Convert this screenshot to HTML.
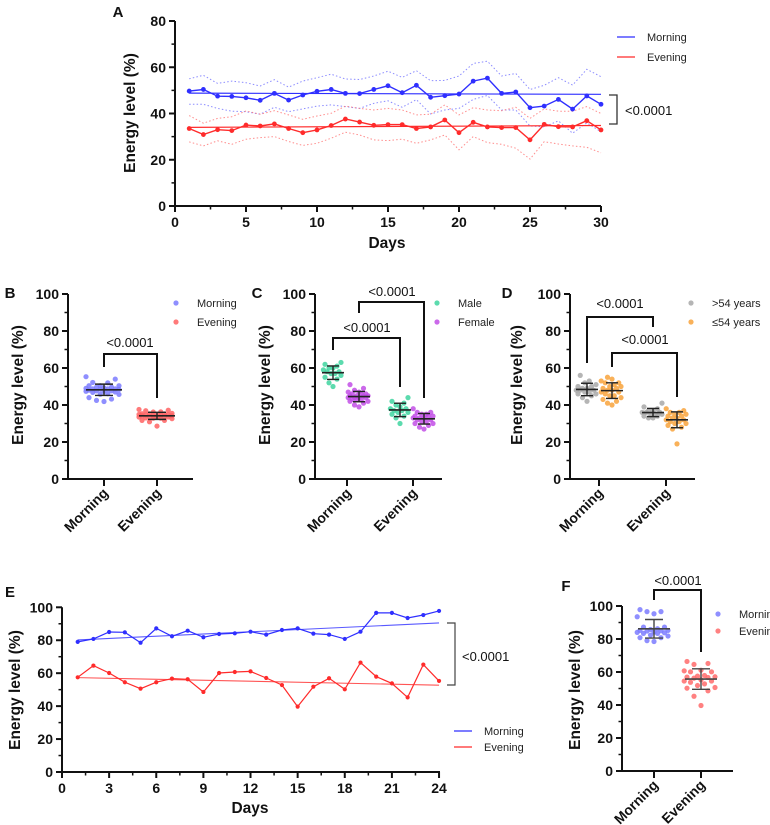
<!DOCTYPE html>
<html><head><meta charset="utf-8"><style>
html,body{margin:0;padding:0;background:#fff;}
svg{display:block;font-family:"Liberation Sans",Arial,sans-serif;}
.tk{font-size:14px;font-weight:bold;fill:#111;}
.ttl{font-size:15.5px;font-weight:bold;fill:#111;}
.lg{font-size:11px;fill:#222;}
.pv{font-size:13px;fill:#111;}
.pl{font-size:15px;font-weight:bold;fill:#111;}
</style></head><body>
<svg id="fig" width="770" height="825" viewBox="0 0 770 825"></svg>
<script>
// ===== Data =====
const daysA = [1,2,3,4,5,6,7,8,9,10,11,12,13,14,15,16,17,18,19,20,21,22,23,24,25,26,27,28,29,30];
const morningA = [49.7,50.4,47.5,47.4,46.8,45.7,48.7,45.8,48,49.6,50.4,48.7,48.6,50.4,52,49,52.2,47,47.7,48.4,54,55.3,48.7,49.3,42.5,43.2,46.1,41.9,47.6,44.0];
const eveningA = [33.5,30.9,33,32.6,35,34.6,35.5,33.5,31.7,32.9,34.8,37.6,36.3,34.9,35.2,35.2,33.5,34.2,37.2,31.7,36.2,34.2,33.9,33.9,28.6,35.3,34.3,34.2,36.9,32.9];
const morningUpA = [55,56.5,53,54,53.3,51.9,54.6,51.4,54,55.5,57,54.9,54.7,56.2,58.3,55.6,58.5,54.2,54.3,56.2,61.6,62.6,56.2,57.3,50.4,52.2,55.5,52.3,59.1,55.9];
const morningLoA = [44,44,42.2,41,40.8,39.7,42.7,40.8,42,43.2,43.7,43,42.2,44.4,45.5,42.7,46,39.8,41.5,42.2,46.1,47.8,41.5,41.5,34.6,34.2,36.8,31.5,36,32.1];
const eveningUpA = [39.1,35.8,37.9,38.6,41.1,39.7,41.2,39.4,37.5,38.9,40.1,43.2,42.2,41.5,42.2,41.5,39.4,39.7,43.7,39.4,42.5,41.5,41.2,42.7,37.9,42,41,41,43,40];
const eveningLoA = [27.7,26,28.2,26.7,28.9,29.6,30,27.9,26.2,27.1,29.3,31.9,30.7,28.6,28.3,28.9,27.1,28.6,30.7,24.3,30,27.4,26.7,25,20.3,27.8,26.8,26,25.4,23];
const trendA = {morning:[48.8,48.3], evening:[34.0,34.8]};

const daysE = [1,2,3,4,5,6,7,8,9,10,11,12,13,14,15,16,17,18,19,20,21,22,23,24];
const morningE = [79,80.8,85,84.8,78.5,87.2,82.4,85.8,81.8,83.8,84.2,85.2,83.4,86.2,87.2,84,83.4,80.8,85.2,96.6,96.6,93.5,95.3,97.8];
const eveningE = [57.5,64.6,60.1,54.5,50.6,54.5,56.7,56.3,48.6,60.1,60.7,61.1,57.1,52.8,39.7,51.8,56.9,50.2,66.4,57.9,53.8,45.3,65.2,55.3];
const trendE = {morning:[80.2,90.5], evening:[57.3,52.7]};

const maleMorning = [62,63,60,58,57,59,56,55,61,50,52,58,57,60,54];
const femaleMorning = [44,46,45,43,47,42,48,51,40,39,45,44,46,43,47,45,42,44,49,41,46,45,43,44];
const maleEvening = [37,40,38,35,42,44,30,33,36,39,37,34,41,38,36];
const femaleEvening = [33,31,35,29,27,34,36,32,30,38,33,34,31,28,35,32,33,36,30,34];
const oldMorning = [48,50,46,52,56,44,42,49,47,51,48,45,53,47,50,46,49,48];
const youngMorning = [48,50,45,52,55,42,40,47,44,51,53,49,46,43,50,48,54,47,45,52,41,49];
const oldEvening = [36,35,38,34,41,33,37,36,35,39,34,36,37,33,35];
const youngEvening = [33,30,35,38,28,31,36,19,34,29,32,37,33,30,35,31,27,34,36,32];

const yTicks80 = [0,20,40,60,80];
const yTicks100 = [0,20,40,60,80,100];
const xTicksA = [0,5,10,15,20,25,30];
const xTicksE = [0,3,6,9,12,15,18,21,24];

// ===== helpers =====
const svg = document.getElementById('fig');
const NS = 'http://www.w3.org/2000/svg';
function mk(tag, attrs, name, parent){
  const el = document.createElementNS(NS, tag);
  for (const k in attrs) el.setAttribute(k, attrs[k]);
  
  
  (parent||svg).appendChild(el);
  return el;
}
function txt(x,y,s,cls,name,anchor,extra){
  const a = Object.assign({x:x,y:y,class:cls,'text-anchor':anchor||'middle'}, extra||{});
  const t = mk('text', a, name);
  t.textContent = s;
  return t;
}
function line(x1,y1,x2,y2,stroke,w,name,extra){
  return mk('line', Object.assign({x1:x1,y1:y1,x2:x2,y2:y2,stroke:stroke,'stroke-width':w}, extra||{}), name);
}
function poly(pts,stroke,w,name,extra){
  return mk('polyline', Object.assign({points:pts.map(p=>p[0].toFixed(1)+','+p[1].toFixed(1)).join(' '),fill:'none',stroke:stroke,'stroke-width':w}, extra||{}), name);
}
function yAxis(ax, yOf, ticks, top, bottom, minorStep, name){
  line(ax, yOf(top), ax, yOf(0)+1, '#111', 2, name+'-line');
  ticks.forEach(v=>{
    line(ax-6, yOf(v), ax, yOf(v), '#111', 2, name+'-tick');
    txt(ax-9, yOf(v)+5, String(v), 'tk', name+'-label', 'end');
  });
  for (let v=minorStep; v<top; v+=minorStep*2) line(ax-3.5, yOf(v), ax, yOf(v), '#111', 1.5, name+'-minor');
}
function mean(a){return a.reduce((s,v)=>s+v,0)/a.length;}
function sd(a){const m=mean(a);return Math.sqrt(a.reduce((s,v)=>s+(v-m)*(v-m),0)/(a.length-1));}
function swarm(vals, cx, yOf, color, name, spread){
  const sc = spread||1;
  const idx = vals.map((v,i)=>i).sort((a,b)=>vals[a]-vals[b]);
  const offs = [0,-5,5,-10,10,-2.5,2.5,-7.5,7.5,-12];
  idx.forEach((i,k)=>{
    const o = offs[k%offs.length]*sc;
    mk('circle',{cx:cx+o, cy:yOf(vals[i]), r:2.6, fill:color, opacity:0.85}, name);
  });
}
function meanSd(vals, cx, yOf, color, name, hw, cw){
  const m = mean(vals), s = sd(vals);
  line(cx-hw, yOf(m), cx+hw, yOf(m), color, 1.6, name+'-mean');
  line(cx, yOf(m+s), cx, yOf(m-s), color, 1.4, name+'-sd');
  line(cx-cw, yOf(m+s), cx+cw, yOf(m+s), color, 1.4, name+'-cap');
  line(cx-cw, yOf(m-s), cx+cw, yOf(m-s), color, 1.4, name+'-cap');
}
function bracket(x1,x2,y,yl,yr,name){
  poly([[x1,yl],[x1,y],[x2,y],[x2,yr]],'#111',2,name);
}
function rotLabel(x,y,s,name){
  txt(x,y,s,'tk',name,'end',{transform:'rotate(-45 '+x+' '+y+')'});
}
function legendDot(x,y,color,label,name){
  mk('circle',{cx:x,cy:y,r:2.6,fill:color,opacity:0.85},name+'-marker');
  txt(x+21,y+4,label,'lg',name+'-text','start');
}
function legendLine(x,y,color,label,name){
  line(x,y,x+18,y,color,1.3,name+'-marker');
  txt(x+30,y+4,label,'lg',name+'-text','start');
}
const BLUE='#2f2fff', RED='#ff2b2b';

// ===== Panel A =====
const xA = d=>175+d*14.2, yA = v=>206-v*2.3125;
txt(118,17,'A','pl','panel-a-letter','middle');
yAxis(175, yA, yTicks80, 80, 0, 10, 'panel-a-y-axis');
line(174, 206, 601, 206, '#111', 2, 'panel-a-x-axis-line');
xTicksA.forEach(d=>{ line(xA(d),206,xA(d),212,'#111',2,'panel-a-x-tick'); txt(xA(d),227,String(d),'tk','panel-a-x-label'); });
for (let d=2.5; d<30; d+=5) line(xA(d),206,xA(d),209.5,'#111',1.5,'panel-a-x-minor');
txt(135,113,'Energy level (%)','ttl','panel-a-y-title','middle',{transform:'rotate(-90 135 113)'});
txt(387,248,'Days','ttl','panel-a-x-title');
const dotted = {'stroke-dasharray':'1.5,2.2', opacity:0.8};
poly(daysA.map((d,i)=>[xA(d),yA(morningUpA[i])]), '#6f6fff', 1, 'morning-upper-band', dotted);
poly(daysA.map((d,i)=>[xA(d),yA(morningLoA[i])]), '#6f6fff', 1, 'morning-lower-band', dotted);
poly(daysA.map((d,i)=>[xA(d),yA(eveningUpA[i])]), '#ff7070', 1, 'evening-upper-band', dotted);
poly(daysA.map((d,i)=>[xA(d),yA(eveningLoA[i])]), '#ff7070', 1, 'evening-lower-band', dotted);
line(xA(1),yA(trendA.morning[0]),xA(30),yA(trendA.morning[1]),BLUE,1.2,'morning-trend-line');
line(xA(1),yA(trendA.evening[0]),xA(30),yA(trendA.evening[1]),RED,1.2,'evening-trend-line');
poly(daysA.map((d,i)=>[xA(d),yA(morningA[i])]), BLUE, 1.4, 'morning-series-line');
poly(daysA.map((d,i)=>[xA(d),yA(eveningA[i])]), RED, 1.4, 'evening-series-line');
daysA.forEach((d,i)=>{ mk('circle',{cx:xA(d),cy:yA(morningA[i]),r:2.4,fill:BLUE},'morning-point'); mk('circle',{cx:xA(d),cy:yA(eveningA[i]),r:2.4,fill:RED},'evening-point'); });
legendLine(617,37,BLUE,'Morning','panel-a-legend-morning');
legendLine(617,57,RED,'Evening','panel-a-legend-evening');
poly([[609,95],[617,95],[617,124],[609,124]],'#333',1.3,'panel-a-significance-bracket');
txt(625,115,'<0.0001','pv','panel-a-p-value','start');

// ===== Panel B =====
const yB = v=>479-v*1.85;
txt(10,298,'B','pl','panel-b-letter');
yAxis(68, yB, yTicks100, 100, 0, 10, 'panel-b-y-axis');
line(67,479,193,479,'#111',2,'panel-b-x-axis-line');
[[104,'Morning'],[157,'Evening']].forEach(([x,l])=>{ line(x,479,x,486,'#111',2,'panel-b-x-tick'); rotLabel(x+5,494,l,'panel-b-x-label'); });
txt(23,385,'Energy level (%)','ttl','panel-b-y-title','middle',{transform:'rotate(-90 23 385)'});
swarm(morningA,104,yB,'#7b7bff','panel-b-morning-point',1.5);
swarm(eveningA,157,yB,'#ff6363','panel-b-evening-point',1.5);
meanSd(morningA,104,yB,'#222','panel-b-morning',18,9);
meanSd(eveningA,157,yB,'#222','panel-b-evening',18,9);
bracket(104,157,354,367,398,'panel-b-bracket');
txt(130,347,'<0.0001','pv','panel-b-p-value');
legendDot(176,303,'#7b7bff','Morning','panel-b-legend-morning');
legendDot(176,322,'#ff6363','Evening','panel-b-legend-evening');

// ===== Panel C =====
txt(257,298,'C','pl','panel-c-letter');
yAxis(315, yB, yTicks100, 100, 0, 10, 'panel-c-y-axis');
line(314,479,442,479,'#111',2,'panel-c-x-axis-line');
[[347,'Morning'],[413,'Evening']].forEach(([x,l])=>{ line(x,479,x,486,'#111',2,'panel-c-x-tick'); rotLabel(x+5,494,l,'panel-c-x-label'); });
txt(270,385,'Energy level (%)','ttl','panel-c-y-title','middle',{transform:'rotate(-90 270 385)'});
const GREEN='#3fd5a0', PURPLE='#c24fe6';
swarm(maleMorning,333,yB,GREEN,'panel-c-male-morning-point',0.8);
swarm(femaleMorning,359,yB,PURPLE,'panel-c-female-morning-point',0.9);
swarm(maleEvening,400,yB,GREEN,'panel-c-male-evening-point',0.8);
swarm(femaleEvening,424,yB,PURPLE,'panel-c-female-evening-point',0.9);
meanSd(maleMorning,333,yB,'#222','panel-c-male-morning',11,6);
meanSd(femaleMorning,359,yB,'#222','panel-c-female-morning',11,6);
meanSd(maleEvening,400,yB,'#222','panel-c-male-evening',11,6);
meanSd(femaleEvening,424,yB,'#222','panel-c-female-evening',11,6);
bracket(333,400,338,350,387,'panel-c-male-bracket');
bracket(359,424,302,313,398,'panel-c-female-bracket');
txt(367,332,'<0.0001','pv','panel-c-male-p-value');
txt(392,296,'<0.0001','pv','panel-c-female-p-value');
legendDot(437,303,GREEN,'Male','panel-c-legend-male');
legendDot(437,322,PURPLE,'Female','panel-c-legend-female');

// ===== Panel D =====
txt(507,298,'D','pl','panel-d-letter');
yAxis(570, yB, yTicks100, 100, 0, 10, 'panel-d-y-axis');
line(569,479,695,479,'#111',2,'panel-d-x-axis-line');
[[599,'Morning'],[666,'Evening']].forEach(([x,l])=>{ line(x,479,x,486,'#111',2,'panel-d-x-tick'); rotLabel(x+5,494,l,'panel-d-x-label'); });
txt(522,385,'Energy level (%)','ttl','panel-d-y-title','middle',{transform:'rotate(-90 522 385)'});
const GRAY='#a8a8a8', ORANGE='#f8a33c';
swarm(oldMorning,587,yB,GRAY,'panel-d-old-morning-point',0.9);
swarm(youngMorning,612,yB,ORANGE,'panel-d-young-morning-point',0.9);
swarm(oldEvening,653,yB,GRAY,'panel-d-old-evening-point',0.9);
swarm(youngEvening,677,yB,ORANGE,'panel-d-young-evening-point',0.9);
meanSd(oldMorning,587,yB,'#222','panel-d-old-morning',11,6);
meanSd(youngMorning,612,yB,'#222','panel-d-young-morning',11,6);
meanSd(oldEvening,653,yB,'#222','panel-d-old-evening',11,6);
meanSd(youngEvening,677,yB,'#222','panel-d-young-evening',11,6);
bracket(587,653,317,363,327,'panel-d-old-bracket');
bracket(612,677,353,367,397,'panel-d-young-bracket');
txt(620,308,'<0.0001','pv','panel-d-old-p-value');
txt(645,344,'<0.0001','pv','panel-d-young-p-value');
legendDot(691,303,GRAY,'>54 years','panel-d-legend-old');
legendDot(691,322,ORANGE,'\u226454 years','panel-d-legend-young');

// ===== Panel E =====
const xE = d=>62+d*15.71, yE = v=>772-v*1.647;
txt(10,597,'E','pl','panel-e-letter');
yAxis(62, yE, yTicks100, 100, 0, 10, 'panel-e-y-axis');
line(61,772,440,772,'#111',2,'panel-e-x-axis-line');
xTicksE.forEach(d=>{ line(xE(d),772,xE(d),778,'#111',2,'panel-e-x-tick'); txt(xE(d),793,String(d),'tk','panel-e-x-label'); });
for (let d=1.5; d<24; d+=3) line(xE(d),772,xE(d),775.5,'#111',1.5,'panel-e-x-minor');
txt(20,690,'Energy level (%)','ttl','panel-e-y-title','middle',{transform:'rotate(-90 20 690)'});
txt(250,813,'Days','ttl','panel-e-x-title');
line(xE(1),yE(trendE.morning[0]),xE(24),yE(trendE.morning[1]),BLUE,1.1,'panel-e-morning-trend',{opacity:0.8});
line(xE(1),yE(trendE.evening[0]),xE(24),yE(trendE.evening[1]),RED,1.1,'panel-e-evening-trend',{opacity:0.8});
poly(daysE.map((d,i)=>[xE(d),yE(morningE[i])]), BLUE, 1.2, 'panel-e-morning-line');
poly(daysE.map((d,i)=>[xE(d),yE(eveningE[i])]), RED, 1.2, 'panel-e-evening-line');
daysE.forEach((d,i)=>{ mk('circle',{cx:xE(d),cy:yE(morningE[i]),r:2.1,fill:BLUE},'panel-e-morning-point'); mk('circle',{cx:xE(d),cy:yE(eveningE[i]),r:2.1,fill:RED},'panel-e-evening-point'); });
poly([[447,623],[455,623],[455,685],[447,685]],'#444',1.2,'panel-e-significance-bracket');
txt(462,661,'<0.0001','pv','panel-e-p-value','start');
legendLine(454,731,BLUE,'Morning','panel-e-legend-morning');
legendLine(454,747,RED,'Evening','panel-e-legend-evening');

// ===== Panel F =====
const yF = v=>771-v*1.65;
txt(566,591,'F','pl','panel-f-letter');
yAxis(622, yF, yTicks100, 100, 0, 10, 'panel-f-y-axis');
line(621,771,733,771,'#111',2,'panel-f-x-axis-line');
[[654,'Morning'],[701,'Evening']].forEach(([x,l])=>{ line(x,771,x,778,'#111',2,'panel-f-x-tick'); rotLabel(x+5,786,l,'panel-f-x-label'); });
txt(580,690,'Energy level (%)','ttl','panel-f-y-title','middle',{transform:'rotate(-90 580 690)'});
swarm(morningE,654,yF,'#7b7bff','panel-f-morning-point',1.4);
swarm(eveningE,701,yF,'#ff6b6b','panel-f-evening-point',1.4);
meanSd(morningE,654,yF,'#444','panel-f-morning',16,9);
meanSd(eveningE,701,yF,'#444','panel-f-evening',16,9);
bracket(654,701,590,600,652,'panel-f-bracket');
txt(678,585,'<0.0001','pv','panel-f-p-value');
legendDot(718,614,'#7b7bff','Morning','panel-f-legend-morning');
legendDot(718,631,'#ff6b6b','Evening','panel-f-legend-evening');
</script>
</body></html>
